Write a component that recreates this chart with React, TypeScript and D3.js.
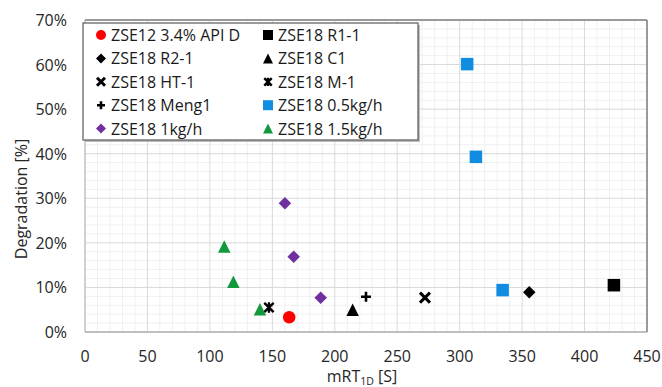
import React from "react";
import * as d3 from "d3";

const W = 662;
const H = 387;

const xTicks = [0, 50, 100, 150, 200, 250, 300, 350, 400, 450];
const yTicks = [0, 10, 20, 30, 40, 50, 60, 70];

type Pt = [number, number];

const api: Pt[] = [[163.5, 3.3]];
const r1: Pt[] = [[423.5, 10.5]];
const r2: Pt[] = [[355.7, 8.9]];
const c1: Pt[] = [[214.3, 5.0]];
const ht1: Pt[] = [[272.2, 7.7]];
const m1: Pt[] = [[147.3, 5.5]];
const meng1: Pt[] = [[225.0, 7.9]];
const kg05: Pt[] = [[306.0, 60.1], [313.0, 39.3], [334.4, 9.4]];
const kg1: Pt[] = [[160.1, 28.9], [167.1, 16.9], [188.7, 7.7]];
const kg15: Pt[] = [[111.5, 19.2], [118.8, 11.3], [140.1, 5.1]];

type Shape = "circle" | "square" | "diamond" | "triangle" | "x" | "star" | "plus";

const series: { name: string; shape: Shape; color: string; data: Pt[] }[] = [
  { name: "ZSE12 3.4% API D", shape: "circle", color: "#ff0000", data: api },
  { name: "ZSE18 R1-1", shape: "square", color: "#000000", data: r1 },
  { name: "ZSE18 R2-1", shape: "diamond", color: "#000000", data: r2 },
  { name: "ZSE18 C1", shape: "triangle", color: "#000000", data: c1 },
  { name: "ZSE18 HT-1", shape: "x", color: "#000000", data: ht1 },
  { name: "ZSE18 M-1", shape: "star", color: "#000000", data: m1 },
  { name: "ZSE18 Meng1", shape: "plus", color: "#000000", data: meng1 },
  { name: "ZSE18 0.5kg/h", shape: "square", color: "#108ce0", data: kg05 },
  { name: "ZSE18 1kg/h", shape: "diamond", color: "#7030a0", data: kg1 },
  { name: "ZSE18 1.5kg/h", shape: "triangle", color: "#12993c", data: kg15 },
];

const FONT = "'Open Sans', 'Noto Sans', sans-serif";

function Marker({ shape, color, cx, cy, s }: { shape: Shape; color: string; cx: number; cy: number; s: number }) {
  const h = s / 2;
  switch (shape) {
    case "circle":
      return <circle cx={cx} cy={cy} r={h} fill={color} />;
    case "square":
      return <rect x={cx - h} y={cy - h} width={s} height={s} fill={color} />;
    case "diamond":
      return (
        <path
          d={`M${cx},${cy - h}L${cx + h},${cy}L${cx},${cy + h}L${cx - h},${cy}Z`}
          fill={color}
        />
      );
    case "triangle":
      return (
        <path
          d={`M${cx},${cy - h}L${cx + h},${cy + h}L${cx - h},${cy + h}Z`}
          fill={color}
        />
      );
    case "x": {
      const a = h * 0.8;
      return (
        <path
          d={`M${cx - a},${cy - a}L${cx + a},${cy + a}M${cx + a},${cy - a}L${cx - a},${cy + a}`}
          stroke={color}
          strokeWidth={3}
        />
      );
    }
    case "star": {
      const a = h * 0.75;
      return (
        <path
          d={`M${cx - a},${cy - a}L${cx + a},${cy + a}M${cx + a},${cy - a}L${cx - a},${cy + a}M${cx},${cy - a * 1.1}L${cx},${cy + a * 1.1}`}
          stroke={color}
          strokeWidth={2.4}
        />
      );
    }
    case "plus": {
      const a = h * 0.8;
      return (
        <path
          d={`M${cx - a},${cy}L${cx + a},${cy}M${cx},${cy - a}L${cx},${cy + a}`}
          stroke={color}
          strokeWidth={2.6}
        />
      );
    }
  }
}

export default function App() {
  const left = 85;
  const right = 647;
  const top = 20;
  const bottom = 332;

  const x = d3.scaleLinear().domain([0, 450]).range([left, right]);
  const y = d3.scaleLinear().domain([0, 70]).range([bottom, top]);

  const minorX = d3.range(0, 451, 10).filter((v) => v % 50 !== 0);
  const minorY = d3.range(0, 71, 2).filter((v) => v % 10 !== 0);

  const lgLeft = 83;
  const lgTop = 23;
  const lgRight = 418;
  const lgBottom = 140;
  const rowH = 23.4;
  const col1 = 101;
  const col2 = 268;

  return (
    <svg
      width={W}
      height={H}
      style={{ position: "absolute", left: 0, top: 0, background: "#fff" }}
      fontFamily={FONT}
    >
      <rect x={0} y={0} width={W} height={H} fill="#fff" />
      {/* minor grid */}
      {minorX.map((v) => (
        <line key={"mx" + v} x1={x(v)} x2={x(v)} y1={top} y2={bottom} stroke="#f0f0f0" strokeWidth={1} />
      ))}
      {minorY.map((v) => (
        <line key={"my" + v} x1={left} x2={right} y1={y(v)} y2={y(v)} stroke="#f0f0f0" strokeWidth={1} />
      ))}
      {/* major grid */}
      {xTicks.map((v) => (
        <line key={"gx" + v} x1={x(v)} x2={x(v)} y1={top} y2={bottom} stroke="#d9d9d9" strokeWidth={1} />
      ))}
      {yTicks.map((v) => (
        <line key={"gy" + v} x1={left} x2={right} y1={y(v)} y2={y(v)} stroke="#d9d9d9" strokeWidth={1} />
      ))}
      {/* frame */}
      <line x1={left} x2={left} y1={top} y2={bottom} stroke="#c0c0c0" strokeWidth={1.2} />
      <line x1={left} x2={right} y1={bottom} y2={bottom} stroke="#b0b0b0" strokeWidth={1.5} />
      <line x1={left} x2={right} y1={top} y2={top} stroke="#7f7f7f" strokeWidth={1.5} />
      <line x1={right} x2={right} y1={top} y2={bottom} stroke="#7f7f7f" strokeWidth={1.5} />

      {/* tick labels */}
      {xTicks.map((v) => (
        <text key={"tx" + v} x={x(v)} y={362} textAnchor="middle" fontSize={16} fill="#262626">
          {v}
        </text>
      ))}
      {yTicks.map((v) => (
        <text key={"ty" + v} x={67} y={y(v) + 6} textAnchor="end" fontSize={16} fill="#262626">
          {v + "%"}
        </text>
      ))}

      {/* axis titles */}
      <text x={362} y={382} textAnchor="middle" fontSize={16} fill="#262626">
        mRT
        <tspan fontSize={10.5} dy={3}>1D</tspan>
        <tspan dy={-3}> [S]</tspan>
      </text>
      <text
        transform={`translate(27,${199}) rotate(-90)`}
        textAnchor="middle"
        fontSize={16}
        fill="#262626"
      >
        Degradation [%]
      </text>

      {/* points */}
      {series.map((s) =>
        s.data.map((d, i) => (
          <Marker key={s.name + i} shape={s.shape} color={s.color} cx={x(d[0])} cy={y(d[1])} s={12.5} />
        ))
      )}

      {/* legend */}
      <rect x={lgLeft + 2} y={lgTop + 2} width={lgRight - lgLeft} height={lgBottom - lgTop} fill="#bdbdbd" />
      <rect x={lgLeft} y={lgTop} width={lgRight - lgLeft} height={lgBottom - lgTop} fill="#fff" stroke="#595959" strokeWidth={1.2} />
      {series.map((s, i) => {
        const col = i % 2;
        const row = Math.floor(i / 2);
        const mx = col === 0 ? col1 : col2;
        const my = 35 + row * rowH;
        return (
          <g key={"lg" + s.name}>
            <Marker shape={s.shape} color={s.color} cx={mx} cy={my} s={10} />
            <text x={mx + 10} y={my + 6} fontSize={16} fill="#1a1a1a">
              {s.name}
            </text>
          </g>
        );
      })}
    </svg>
  );
}
